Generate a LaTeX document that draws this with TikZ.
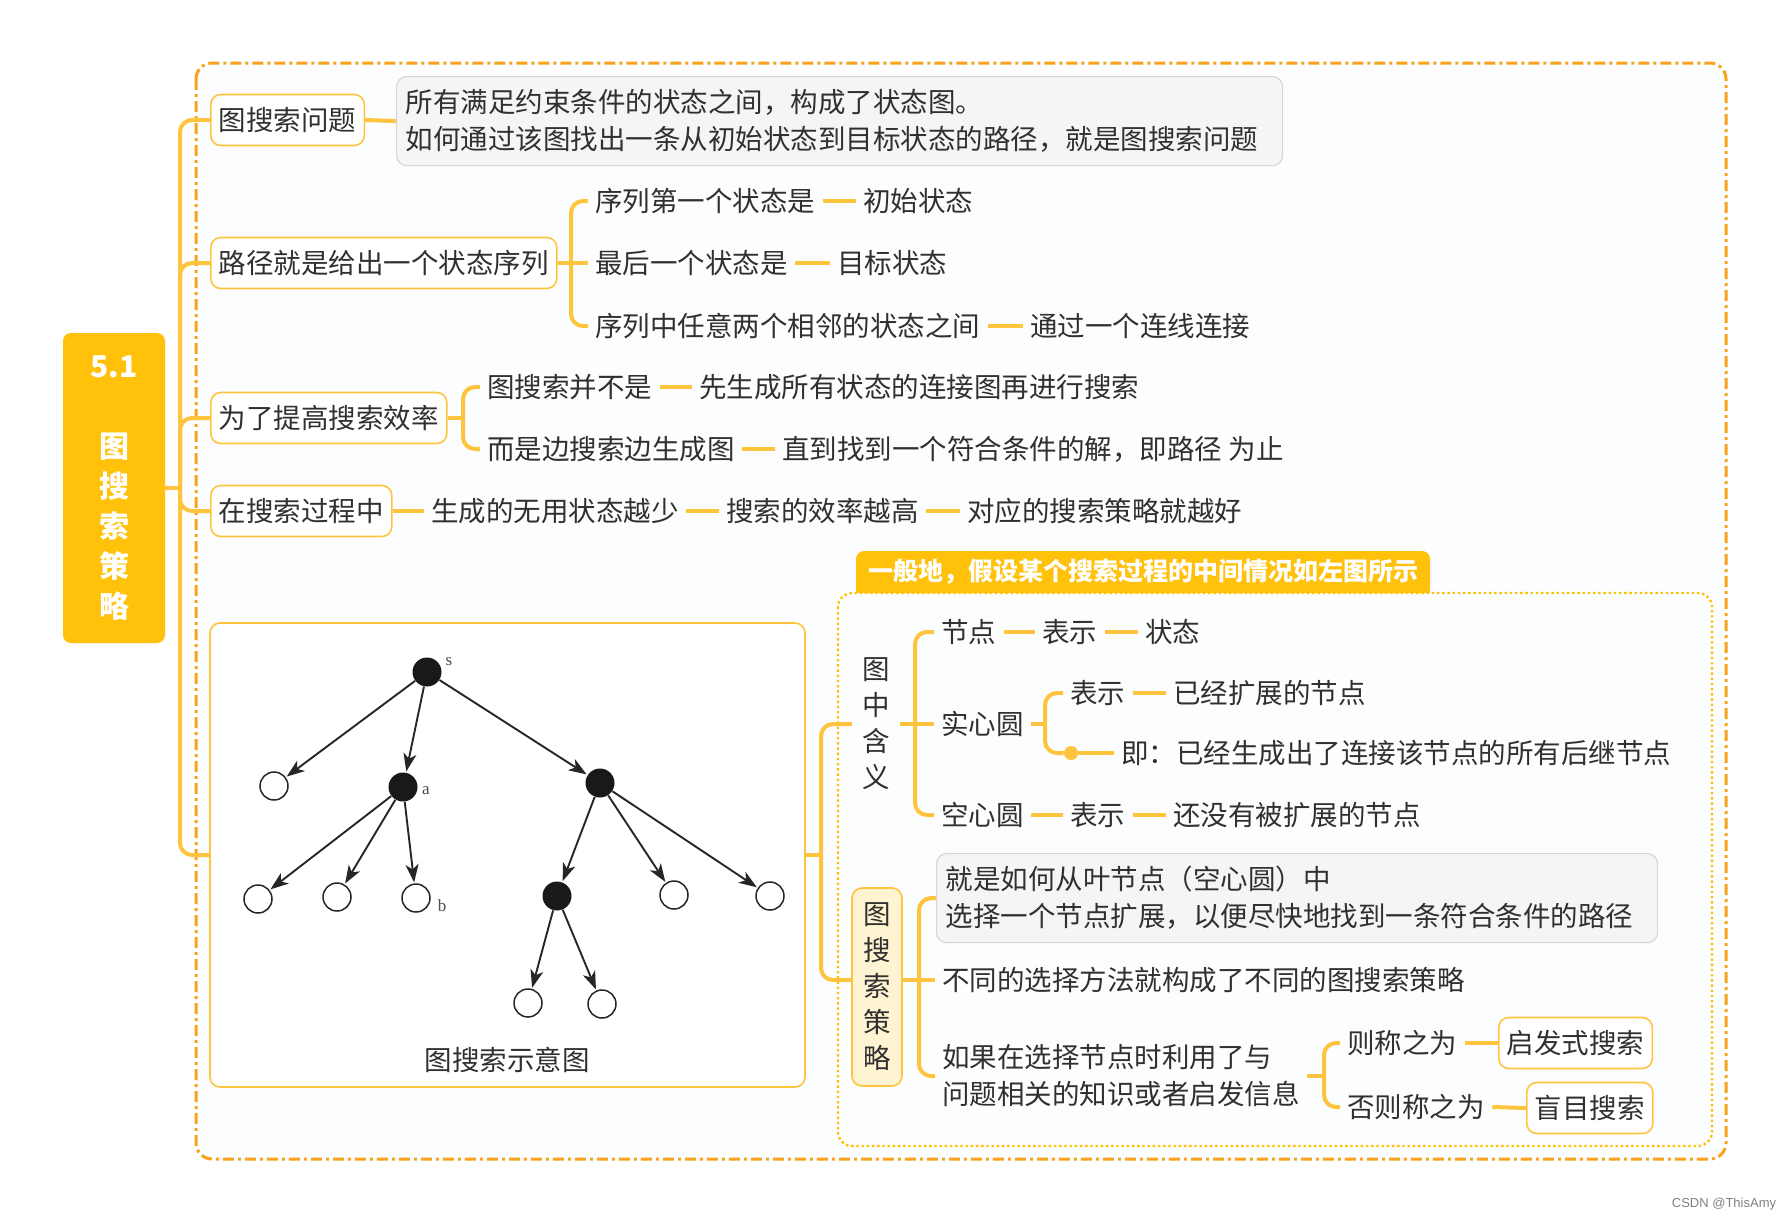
\documentclass[tikz,border=0pt]{standalone}
\usepackage{fontspec}
\setmainfont{Noto Sans CJK SC}
\newfontfamily\trfont{Liberation Serif}
\newfontfamily\wmfont{Liberation Sans}
\usetikzlibrary{arrows.meta}
\definecolor{rootc}{HTML}{FFC10A}
\definecolor{linec}{HTML}{FFC43D}
\definecolor{framec}{HTML}{F8A31B}
\definecolor{txt}{HTML}{303030}
\definecolor{greyf}{HTML}{F5F5F5}
\definecolor{greyd}{HTML}{D6D6D6}
\definecolor{paleY}{HTML}{FFF4D2}
\definecolor{bgin}{HTML}{FCFDFE}
\definecolor{inboxc}{HTML}{FFC000}
\begin{document}
\begin{tikzpicture}[x=0.5pt,y=-0.5pt,
  every node/.style={font=\fontsize{13.75pt}{18.5pt}\selectfont, text=txt},
  ln/.style={draw=linec, line width=2pt, rounded corners=6pt},
  obox/.style={draw=linec, line width=0.8pt, rounded corners=5pt, fill=white, inner xsep=4pt, minimum height=25.5pt, anchor=west},
  tx/.style={inner xsep=3.5pt, inner ysep=1pt, anchor=west, xshift=-3.5pt},
  gbox/.style={draw=greyd, fill=greyf, line width=0.6pt, rounded corners=5pt, anchor=north west, align=left, inner xsep=4.5pt},
  opn/.style={circle, draw=black!85, line width=0.75pt, minimum size=14pt, inner sep=0pt, fill=white},
  fld/.style={circle, fill=black!90, minimum size=14.5pt, inner sep=0pt},
  tarr/.style={draw=black!85, line width=0.95pt, -{Stealth[length=9pt,width=6.5pt,inset=2.5pt]}, shorten >=0.5pt},
  tlab/.style={font=\trfont\fontsize{8.5pt}{9pt}\selectfont, text=black!70, inner sep=0pt},
]
\useasboundingbox (0,0) rectangle (1788,1221);
% outer frame
\draw[framec, line width=1.5pt, dash pattern=on 5.5pt off 2pt on 1.5pt off 2pt, rounded corners=8pt, fill=bgin] (196,63) rectangle (1726,1159);
% inner dotted frame
\draw[inboxc, line width=1.2pt, dash pattern=on 1.2pt off 1.4pt, rounded corners=7pt] (838,593) rectangle (1712,1146);
% banner
\fill[rootc] (856,575) rectangle (1430,593);
\node[fill=rootc, rounded corners=4pt, minimum width=287pt, minimum height=21pt, inner sep=0pt, text=white, font=\fontsize{12.5pt}{15pt}\selectfont\bfseries] (banner) at (1143,572) {一般地，假设某个搜索过程的中间情况如左图所示};

% root
\node[fill=rootc, rounded corners=4pt, minimum width=51pt, minimum height=155pt, inner sep=0pt, align=center, text=white, font=\fontsize{15pt}{20pt}\selectfont\bfseries] (root) at (114,488) {5.1\\[20pt]图\\搜\\索\\策\\略};

% first level
\node[obox] (c1) at (210,120) {图搜索问题};
\node[obox] (c2) at (210,263) {路径就是给出一个状态序列};
\node[obox] (c3) at (210,418) {为了提高搜索效率};
\node[obox] (c4) at (210,511) {在搜索过程中};
\node[draw=linec, line width=0.8pt, rounded corners=5pt, fill=white, minimum width=297.5pt, minimum height=232pt, inner sep=0pt] (c5) at (507.5,855) {};

% grey box 1
\node[gbox, text width=434pt, minimum height=44.5pt] (g1) at (396,76) {所有满足约束条件的状态之间，构成了状态图。\\如何通过该图找出一条从初始状态到目标状态的路径，就是图搜索问题};

% path children
\node[tx] (p1) at (595,201) {序列第一个状态是};
\node[tx] (p1b) at (863,201) {初始状态};
\node[tx] (p2) at (595,263) {最后一个状态是};
\node[tx] (p2b) at (837,263) {目标状态};
\node[tx] (p3) at (595,326) {序列中任意两个相邻的状态之间};
\node[tx] (p3b) at (1030,326) {通过一个连线连接};

% efficiency children
\node[tx] (e1) at (487,387) {图搜索并不是};
\node[tx] (e1b) at (699,387) {先生成所有状态的连接图再进行搜索};
\node[tx] (e2) at (487,449) {而是边搜索边生成图};
\node[tx] (e2b) at (782,449) {直到找到一个符合条件的解，即路径 为止};

% process chain
\node[tx] (s1) at (431,511) {生成的无用状态越少};
\node[tx] (s2) at (726,511) {搜索的效率越高};
\node[tx] (s3) at (967,511) {对应的搜索策略就越好};

% tree inside image box
\node[fld] (ts) at (427,672) {};
\node[opn] (tl) at (274,786) {};
\node[fld] (ta) at (403,787) {};
\node[fld] (tr) at (600,783) {};
\node[opn] (ta1) at (258,899) {};
\node[opn] (ta2) at (337,897) {};
\node[opn] (ta3) at (416,898) {};
\node[fld] (tr1) at (557,896) {};
\node[opn] (tr2) at (674,895) {};
\node[opn] (tr3) at (770,896) {};
\node[opn] (tb1) at (528,1003) {};
\node[opn] (tb2) at (602,1004) {};
\node[tlab] (ls) at (449,662) {s};
\node[tlab] (la) at (426,791) {a};
\node[tlab] (lb) at (442,906) {b};
\draw[tarr] (ts) -- (tl);
\draw[tarr] (ts) -- (ta);
\draw[tarr] (ts) -- (tr);
\draw[tarr] (ta) -- (ta1);
\draw[tarr] (ta) -- (ta2);
\draw[tarr] (ta) -- (ta3);
\draw[tarr] (tr) -- (tr1);
\draw[tarr] (tr) -- (tr2);
\draw[tarr] (tr) -- (tr3);
\draw[tarr] (tr1) -- (tb1);
\draw[tarr] (tr1) -- (tb2);
\node (cap) at (507,1060) {图搜索示意图};

% right side
\coordinate (j4) at (821,855);
\node[align=center, inner xsep=5pt, font=\fontsize{13.75pt}{18pt}\selectfont] (hz) at (876,724) {图\\中\\含\\义};
\node[draw=linec, line width=0.8pt, fill=paleY, rounded corners=5pt, minimum width=25pt, minimum height=99pt, inner sep=0pt, align=center, font=\fontsize{13.75pt}{18pt}\selectfont] (gs) at (877,987) {图\\搜\\索\\策\\略};

\coordinate (j5) at (915,724);
\node[tx] (m1) at (941,632) {节点};
\node[tx] (m1b) at (1042,632) {表示};
\node[tx] (m1c) at (1145,632) {状态};
\node[tx] (m2) at (941,724) {实心圆};
\coordinate (j6) at (1045,724);
\node[tx] (m2a) at (1070,693) {表示};
\node[tx] (m2ab) at (1173,693) {已经扩展的节点};
\node[fill=linec, circle, minimum size=7pt, inner sep=0pt] (dot) at (1071,753) {};
\node[tx] (m2b) at (1121,753) {即：已经生成出了连接该节点的所有后继节点};
\node[tx] (m3) at (941,815) {空心圆};
\node[tx] (m3b) at (1070,815) {表示};
\node[tx] (m3c) at (1173,815) {还没有被扩展的节点};

\coordinate (j7) at (919,980);
\node[gbox, text width=351.5pt, minimum height=44.5pt] (g2) at (936,853) {就是如何从叶节点（空心圆）中\\选择一个节点扩展，以便尽快地找到一条符合条件的路径};
\node[tx] (t2) at (942,980) {不同的选择方法就构成了不同的图搜索策略};
\node[tx, align=left] (t3) at (942,1076) {如果在选择节点时利用了与\\问题相关的知识或者启发信息};
\coordinate (j8) at (1324,1076);
\node[tx] (h1) at (1347,1043) {则称之为};
\node[obox] (h1b) at (1498,1043) {启发式搜索};
\node[tx] (h2) at (1347,1107) {否则称之为};
\node[obox] (h2b) at (1526,1108) {盲目搜索};

% watermark
\node[font=\wmfont\fontsize{6.5pt}{7pt}\selectfont, text=black!50] (wm) at (1724,1204) {CSDN @ThisAmy};

% connectors
\coordinate (j1) at (180,488);
\draw[ln] (root.east) -- (j1);
\foreach \c in {c1,c2,c3,c4,c5} \draw[ln] (j1) |- (\c.west);
\draw[ln] (c1.east) -- (g1.west);

\coordinate (j2) at (571,263);
\draw[ln] (c2.east) -- (j2) -- (p2.west);
\draw[ln] (j2) |- (p1.west);
\draw[ln] (j2) |- (p3.west);
\draw[ln] (p1.east) -- (p1b.west);
\draw[ln] (p2.east) -- (p2b.west);
\draw[ln] (p3.east) -- (p3b.west);

\coordinate (j3) at (463,418);
\draw[ln] (c3.east) -- (j3);
\draw[ln] (j3) |- (e1.west);
\draw[ln] (j3) |- (e2.west);
\draw[ln] (e1.east) -- (e1b.west);
\draw[ln] (e2.east) -- (e2b.west);

\draw[ln] (c4.east) -- (s1.west);
\draw[ln] (s1.east) -- (s2.west);
\draw[ln] (s2.east) -- (s3.west);

\draw[ln] (c5.east) -- (j4);
\draw[ln] (j4) |- (hz.west);
\draw[ln] (j4) |- (gs.west |- j7);

\draw[ln] (hz.east) -- (j5) -- (m2.west);
\draw[ln] (j5) |- (m1.west);
\draw[ln] (j5) |- (m3.west);
\draw[ln] (m1.east) -- (m1b.west);
\draw[ln] (m1b.east) -- (m1c.west);
\draw[ln] (m2.east) -- (j6);
\draw[ln] (j6) |- (m2a.west);
\draw[ln] (j6) |- (dot.west);
\draw[ln] (m2a.east) -- (m2ab.west);
\draw[ln] (dot.east) -- (m2b.west);
\draw[ln] (m3.east) -- (m3b.west);
\draw[ln] (m3b.east) -- (m3c.west);

\draw[ln] (gs.east |- j7) -- (j7) -- (t2.west);
\draw[ln] (j7) |- (g2.west);
\draw[ln] (j7) |- (t3.west);
\draw[ln] (t3.east) -- (j8);
\draw[ln] (j8) |- (h1.west);
\draw[ln] (j8) |- (h2.west);
\draw[ln] (h1.east) -- (h1b.west);
\draw[ln] (h2.east) -- (h2b.west);
\end{tikzpicture}
\end{document}
